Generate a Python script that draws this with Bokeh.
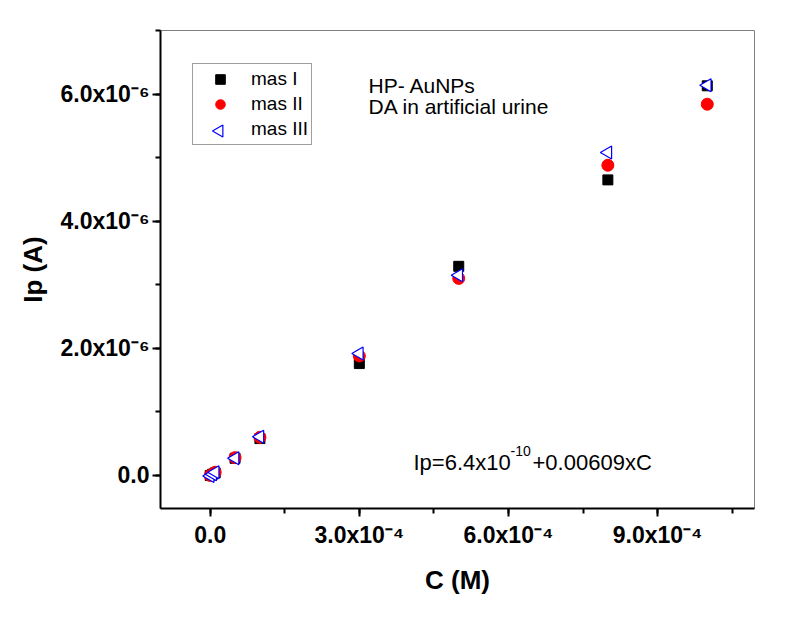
import numpy as np
from bokeh.plotting import figure
from bokeh.models import (Range1d, SingleIntervalTicker, CustomJSTickFormatter,
                          Label, Legend, LegendItem)
from bokeh.embed import file_html
from bokeh.resources import INLINE

# ---- data ----
conc = [0.0, 5e-6, 1e-5, 5e-5, 1e-4, 3e-4, 5e-4, 8e-4, 1e-3]
ip_mas1 = [0.0, 0.02e-6, 0.04e-6, 0.27e-6, 0.58e-6, 1.76e-6, 3.29e-6, 4.65e-6, 6.13e-6]
ip_mas2 = [0.0, 0.02e-6, 0.05e-6, 0.28e-6, 0.60e-6, 1.88e-6, 3.10e-6, 4.88e-6, 5.84e-6]
ip_mas3 = [-0.01e-6, 0.02e-6, 0.05e-6, 0.27e-6, 0.61e-6, 1.92e-6, 3.15e-6, 5.08e-6, 6.14e-6]
series_names = ["mas I", "mas II", "mas III"]
x_title = "C (M)"
y_title = "Ip (A)"
note_lines = ["HP- AuNPs", "DA in artificial urine"]
eq_parts = ["Ip=6.4x10", "-10", "+0.00609xC"]

FONT = "Liberation Sans"

p = figure(width=777, height=608, output_backend="svg", toolbar_location=None,
           x_range=Range1d(-1.0e-4, 1.095e-3), y_range=Range1d(-0.52e-6, 7.0e-6),
           min_border_left=160, min_border_right=23, min_border_top=30,
           min_border_bottom=100)
p.xgrid.visible = False
p.ygrid.visible = False
p.outline_line_color = "#808080"
p.outline_line_width = 1
p.background_fill_color = "white"
p.border_fill_color = "white"

r1 = p.scatter(conc, ip_mas1, marker="square", size=10, fill_color="black",
               line_color="black")
r2 = p.scatter(conc, ip_mas2, marker="circle", size=12, fill_color="red",
               line_color="red")
r3 = p.scatter(conc, ip_mas3, marker="triangle", size=13, angle=np.pi / 2,
               fill_color="white", fill_alpha=1.0, line_color="blue", line_width=1.2)
# invisible stand-in for the legend entry (legend glyphs cannot be rotated)
r3_leg = p.scatter(x=[], y=[], marker="circle", size=1, fill_alpha=0, line_alpha=0)

# axes
p.xaxis.ticker = SingleIntervalTicker(interval=3e-4, num_minor_ticks=2)
p.yaxis.ticker = SingleIntervalTicker(interval=2e-6, num_minor_ticks=2)
p.xaxis.formatter = CustomJSTickFormatter(code="""
const m = tick/1e-4;
if (Math.abs(m) < 1e-9) return "0.0";
return m.toFixed(1) + "x10\u207b\u2074";
""")
p.yaxis.formatter = CustomJSTickFormatter(code="""
const m = tick/1e-6;
if (Math.abs(m) < 1e-9) return "0.0";
return m.toFixed(1) + "x10\u207b\u2076";
""")
for ax in (p.xaxis[0], p.yaxis[0]):
    ax.axis_line_width = 2
    ax.axis_line_color = "black"
    ax.major_tick_line_width = 2
    ax.minor_tick_line_width = 2
    ax.major_tick_line_color = "black"
    ax.minor_tick_line_color = "black"
    ax.major_tick_out = 8
    ax.major_tick_in = 0
    ax.minor_tick_out = 5
    ax.minor_tick_in = 0
    ax.major_label_text_font = FONT
    ax.major_label_text_font_style = "bold"
    ax.major_label_text_font_size = "23px"
    ax.major_label_text_color = "black"
    ax.axis_label_text_font = FONT
    ax.axis_label_text_font_style = "bold"
    ax.axis_label_text_font_size = "26px"
    ax.axis_label_text_color = "black"

p.xaxis.axis_label = x_title
p.yaxis.axis_label = y_title
p.xaxis.major_label_standoff = 5
p.yaxis.major_label_standoff = 3
p.xaxis.axis_label_standoff = 14
p.yaxis.axis_label_standoff = 10

# legend
legend = Legend(items=[LegendItem(label=series_names[0], renderers=[r1]),
                       LegendItem(label=series_names[1], renderers=[r2]),
                       LegendItem(label=series_names[2], renderers=[r3_leg])],
                location=(32, 363))
legend.label_text_font = FONT
legend.label_text_font_size = "19px"
legend.label_text_color = "black"
legend.label_text_baseline = "middle"
legend.border_line_color = "#404040"
legend.border_line_width = 1
legend.padding = 3
legend.spacing = 1
legend.glyph_width = 48
legend.glyph_height = 24
legend.label_height = 24
legend.label_standoff = 7
legend.margin = 0
legend.background_fill_alpha = 0.0
p.add_layout(legend, "center")

# left-pointing triangle key for the third legend entry (legend keys cannot rotate)
p.scatter(x=[1.85e-5], y=[5.42e-6], marker="triangle", size=12, angle=np.pi / 2,
          fill_color="white", line_color="blue", line_width=1.2, level="overlay")

# annotations
p.add_layout(Label(x=3.187e-4, y=6.127e-6, text=note_lines[0], text_font=FONT,
                   text_font_size="21px", text_baseline="alphabetic", text_color="black"))
p.add_layout(Label(x=3.187e-4, y=5.80e-6, text=note_lines[1], text_font=FONT,
                   text_font_size="21px", text_baseline="alphabetic", text_color="black"))
eq_x, eq_y = 4.09e-4, 0.204e-6
p.add_layout(Label(x=eq_x, y=eq_y, text=eq_parts[0], text_font=FONT,
                   text_font_size="22px", text_baseline="alphabetic", text_color="black"))
p.add_layout(Label(x=eq_x, y=eq_y, x_offset=97, y_offset=11, text=eq_parts[1],
                   text_font=FONT, text_font_size="14px", text_baseline="alphabetic",
                   text_color="black"))
p.add_layout(Label(x=eq_x, y=eq_y, x_offset=119, text=eq_parts[2], text_font=FONT,
                   text_font_size="22px", text_baseline="alphabetic", text_color="black"))

open("out.html", "w").write(file_html(p, INLINE))
